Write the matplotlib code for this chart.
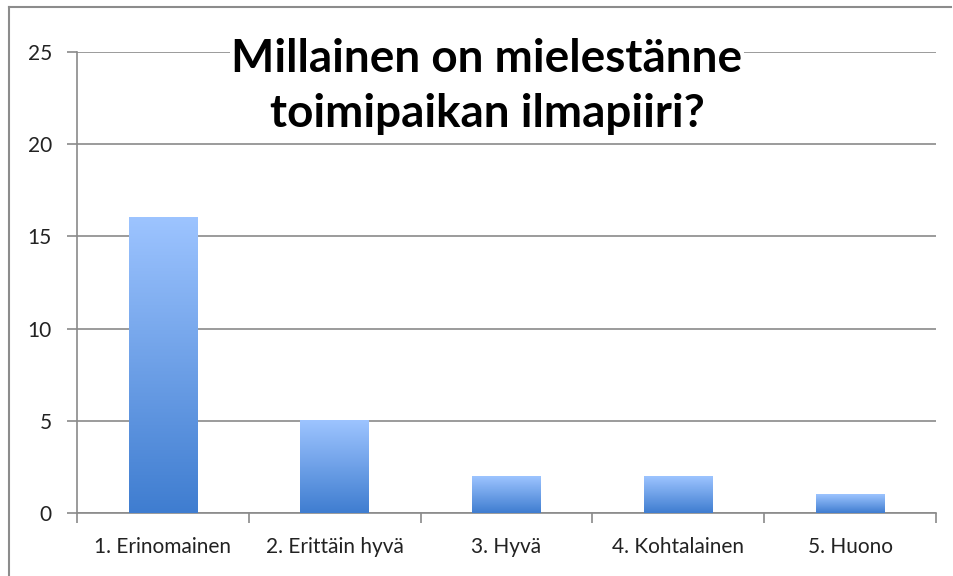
import numpy as np
import matplotlib
matplotlib.use("Agg")
import matplotlib.pyplot as plt
from matplotlib.colors import LinearSegmentedColormap
from matplotlib.lines import Line2D

# data
categories = ["1. Erinomainen", "2. Erittäin hyvä", "3. Hyvä", "4. Kohtalainen", "5. Huono"]
values = [16, 5, 2, 2, 1]
yticks = [0, 5, 10, 15, 20, 25]
title_lines = ["Millainen on mielestänne", "toimipaikan ilmapiiri?"]

plt.rcParams["font.family"] = ["Lato", "DejaVu Sans"]

grid_col = "#8a8a8a"
grad = LinearSegmentedColormap.from_list("bar", ["#3f7dd0", "#9dc4ff"])

fig = plt.figure(figsize=(9.54, 5.76), dpi=100)
ax = fig.add_axes([77 / 954, 1 - 513 / 576, (936 - 77) / 954, (513 - 52) / 576])

# gradient bars, one image per bar
x = np.arange(len(categories))
width = 0.4
g = np.linspace(0, 1, 256).reshape(-1, 1)
for xi, v in zip(x, values):
    ax.imshow(g, cmap=grad, origin="lower", aspect="auto",
              extent=[xi - width / 2, xi + width / 2, 0, v], zorder=3)

ax.set_xlim(-0.5, len(categories) - 0.5)
ax.set_ylim(0, 25)

# axes styling
ax.set_yticks(yticks)
ax.yaxis.grid(True, color=grid_col, linewidth=1.2)
ax.set_axisbelow(True)
ax.tick_params(axis="y", length=7, width=1.2, color=grid_col, labelsize=15, pad=11,
               labelcolor="#222222")
ax.set_xticks(np.arange(len(categories) + 1) - 0.5)
ax.set_xticklabels([])
ax.set_xticks(x, minor=True)
ax.set_xticklabels(categories, minor=True)
ax.tick_params(axis="x", which="major", length=7, width=1.2, color=grid_col)
ax.tick_params(axis="x", which="minor", length=0, labelsize=15, pad=17,
               labelcolor="#222222")
for s in ["top", "right"]:
    ax.spines[s].set_visible(False)
for s in ["left", "bottom"]:
    ax.spines[s].set_color(grid_col)
    ax.spines[s].set_linewidth(1.2)

# title: first line hides the top gridline, second line sits in the open
fig.text(487 / 954, 1 - 72 / 576, title_lines[0], ha="center", va="baseline",
         fontsize=33, fontweight="bold", zorder=5,
         bbox=dict(facecolor="white", edgecolor="none", pad=1))
fig.text(487 / 954, 1 - 127 / 576, title_lines[1], ha="center", va="baseline",
         fontsize=33, fontweight="bold", zorder=5)

# outer chart frame (top and left edges visible)
fig.add_artist(Line2D([9 / 954, 9 / 954], [0, 1 - 7 / 576], color="#8c8c8c", lw=1.5))
fig.add_artist(Line2D([9 / 954, 951 / 954], [1 - 7 / 576, 1 - 7 / 576], color="#8c8c8c", lw=1.5))

fig.savefig("out.png", dpi=100)
